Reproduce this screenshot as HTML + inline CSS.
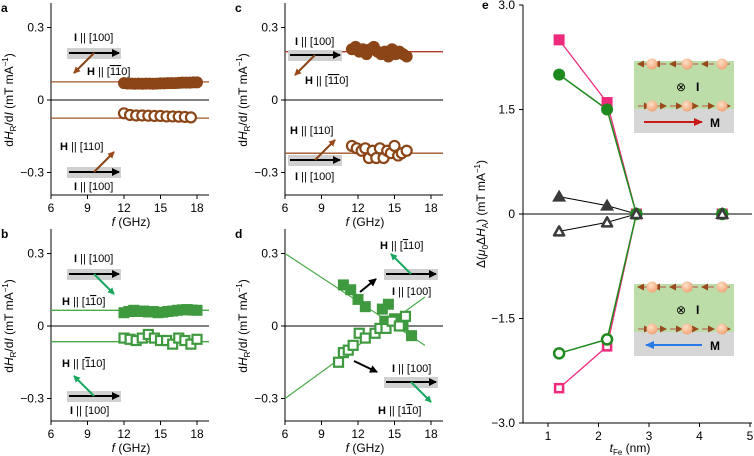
<!DOCTYPE html>
<html><head><meta charset="utf-8"><style>
body{margin:0;background:#fff}
svg{display:block;font-family:"Liberation Sans",sans-serif}
</style></head><body>
<svg id="fig" width="754" height="456" viewBox="0 0 754 456">
<defs>
<marker id="ab" markerWidth="8" markerHeight="8" refX="7" refY="4" orient="auto" markerUnits="userSpaceOnUse"><path d="M0,0 L8,4 L0,8 z" fill="#000"/></marker>
<marker id="abr" markerWidth="7" markerHeight="7" refX="6" refY="3.5" orient="auto" markerUnits="userSpaceOnUse"><path d="M0,0 L7,3.5 L0,7 z" fill="#9a4a1a"/></marker>
<marker id="agr" markerWidth="7" markerHeight="7" refX="6" refY="3.5" orient="auto" markerUnits="userSpaceOnUse"><path d="M0,0 L7,3.5 L0,7 z" fill="#1aa860"/></marker>
<marker id="ared" markerWidth="9" markerHeight="8" refX="8" refY="4" orient="auto" markerUnits="userSpaceOnUse"><path d="M0,0 L9,4 L0,8 z" fill="#c81818"/></marker>
<marker id="ablu" markerWidth="9" markerHeight="8" refX="8" refY="4" orient="auto" markerUnits="userSpaceOnUse"><path d="M0,0 L9,4 L0,8 z" fill="#2a7ae8"/></marker>
<radialGradient id="ball" cx="0.4" cy="0.35" r="0.7"><stop offset="0" stop-color="#fde0c8"/><stop offset="1" stop-color="#f0a070"/></radialGradient>
</defs>
</svg>
<script>
// ---------- data ----------
const fTicks=[6,9,12,15,18];
const yTicksAD=[0.3,0,-0.3];
const yTickLabelsAD=["0.3","0","\u22120.3"];
const aFilledF=[12,12.3,12.6,12.9,13.2,13.5,13.8,14.1,14.4,14.7,15,15.3,15.6,15.9,16.2,16.5,16.8,17.1,17.4,17.7,18];
const aFilledV=[0.07,0.068,0.068,0.067,0.068,0.067,0.068,0.068,0.067,0.068,0.069,0.069,0.07,0.07,0.07,0.071,0.072,0.072,0.072,0.073,0.073];
const aOpenF=[12,12.5,13,13.5,14,14.5,15,15.5,16,16.5,17,17.5];
const aOpenV=[-0.055,-0.062,-0.064,-0.064,-0.065,-0.066,-0.066,-0.068,-0.068,-0.069,-0.07,-0.072];
const aLines=[0.075,-0.075];
const cFilledF=[11.5,11.8,12.1,12.4,12.7,13,13.3,13.6,13.9,14.2,14.5,14.8,15.1,15.4,15.7,16];
const cFilledV=[0.21,0.22,0.2,0.21,0.19,0.21,0.22,0.2,0.19,0.2,0.18,0.21,0.19,0.2,0.19,0.18];
const cOpenF=[11.5,11.9,12.3,12.6,12.9,13.2,13.5,13.8,14.1,14.4,14.7,15,15.3,15.6,16];
const cOpenV=[-0.19,-0.2,-0.21,-0.2,-0.24,-0.21,-0.24,-0.2,-0.24,-0.21,-0.22,-0.19,-0.23,-0.22,-0.21];
const cLines=[0.2,-0.22];
const bFilledF=[12,12.4,12.8,13.2,13.6,14,14.4,14.8,15.2,15.6,16,16.4,16.8,17.2,17.6,18];
const bFilledV=[0.055,0.06,0.065,0.06,0.062,0.058,0.06,0.055,0.057,0.06,0.062,0.065,0.067,0.068,0.066,0.065];
const bOpenF=[12,12.5,13,13.5,14,14.5,15,15.5,16,16.5,17,17.5,18];
const bOpenV=[-0.05,-0.055,-0.06,-0.05,-0.035,-0.05,-0.06,-0.06,-0.075,-0.05,-0.06,-0.075,-0.055];
const bLines=[0.065,-0.065];
const dFilledF=[10.8,11.4,12,12.6,14,14.5,14.2,15,15.7,16.4];
const dFilledV=[0.17,0.15,0.11,0.08,0.07,0.09,0.02,0.03,0.0,-0.04];
const dOpenF=[10.4,10.8,11.2,11.6,12.1,12.6,13.4,13.8,14.3,14.8,15.4,15.9];
const dOpenV=[-0.15,-0.11,-0.1,-0.08,-0.03,-0.05,-0.03,-0.01,-0.01,0.02,0.0,0.04];
const dLineA=[[6,0.3],[17.5,-0.08]];
const dLineB=[[6,-0.3],[17.5,0.12]];
const eTicksX=[1,2,3,4,5];
const eTicksY=[3,1.5,0,-1.5,-3];
const eTickYLabels=["3.0","1.5","0","\u22121.5","\u22123.0"];
const eT=[1.22,2.17,2.75,4.45];
const ePinkUp=[2.5,1.6,0,0];
const ePinkDn=[-2.5,-1.9,0,0];
const eGreenUp=[2.0,1.5,0,0];
const eGreenDn=[-2.0,-1.8,0,0];
const eTriUp=[0.25,0.12,0,0];
const eTriDn=[-0.25,-0.12,0,0];

// ---------- helpers ----------
const svg=document.getElementById('fig');
const NS='http://www.w3.org/2000/svg';
function mk(tag,at,parent){const e=document.createElementNS(NS,tag);for(const k in at)e.setAttribute(k,at[k]);(parent||svg).appendChild(e);return e;}
function txt(x,y,s,at,parent){const e=mk('text',Object.assign({x:x,y:y},at||{}),parent);e.innerHTML=s;return e;}
const BR='#8b4516', GR='#3f9a3f', GE='#1e8a1e', PK='#ee2a7b', DK='#3a3a3a';

function panel(id,ox,oy){
  const g=mk('g',{});
  
  
  const xs=f=>ox+(f-6)*(146/12);
  const ys=v=>oy-v*(72.5/0.3);
  const bot=oy+95;
  mk('line',{x1:ox,y1:oy-97,x2:ox,y2:bot,stroke:'#000','stroke-width':1},g);
  mk('line',{x1:ox,y1:bot,x2:ox+158,y2:bot,stroke:'#000','stroke-width':1},g);
  mk('line',{x1:ox,y1:oy,x2:ox+158,y2:oy,stroke:'#000','stroke-width':1},g);
  fTicks.forEach(t=>{mk('line',{x1:xs(t),y1:bot,x2:xs(t),y2:bot+4,stroke:'#000'},g);
    const l=txt(xs(t),bot+17,String(t),{'font-size':12,'text-anchor':'middle'},g);
    
    });
  yTicksAD.forEach((t,i)=>{mk('line',{x1:ox-4,y1:ys(t),x2:ox,y2:ys(t),stroke:'#000'},g);
    const l=txt(ox-7,ys(t)+4,yTickLabelsAD[i],{'font-size':12,'text-anchor':'end'},g);
    
    });
  const xt=txt(ox+80,bot+31,'<tspan font-style="italic">f</tspan> (GHz)',{'font-size':12,'text-anchor':'middle'},g);
  
  
  const yt=txt(0,0,'d<tspan font-style="italic">H</tspan><tspan font-size="8" dy="3">R</tspan><tspan dy="-3">/d</tspan><tspan font-style="italic">I</tspan> (mT mA<tspan font-size="8" dy="-5">\u22121</tspan><tspan dy="5">)</tspan>',{'font-size':12,'text-anchor':'middle',transform:`translate(${ox-38},${oy}) rotate(-90)`},g);
  
  
  const lb=txt(ox-50,oy-88,id,{'font-size':12,'font-weight':'bold'},g);
  
  
  return {g,xs,ys};
}

function circles(p,F,V,col,filled,name){F.forEach((f,i)=>{const c=mk('circle',{cx:p.xs(f),cy:p.ys(V[i]),r:filled?6:5,fill:filled?col:'#fff',stroke:col,'stroke-width':filled?0:2.2},p.g);
  
  });}
function squares(p,F,V,col,filled,name){F.forEach((f,i)=>{const s=filled?11:9;const r=mk('rect',{x:p.xs(f)-s/2,y:p.ys(V[i])-s/2,width:s,height:s,fill:filled?col:'#fff',stroke:col,'stroke-width':filled?0:2.2},p.g);
  
  });}
function hline(p,v,col){const l=mk('line',{x1:p.xs(6),y1:p.ys(v),x2:p.xs(6)+158,y2:p.ys(v),stroke:col,'stroke-width':1.3},p.g);
  
  }
function icon(g,x,y,ax,ay,col,mark){
  mk('rect',{x:x,y:y-5,width:54,height:11,fill:'#d0d0d0'},g);
  mk('line',{x1:x+2,y1:y,x2:x+52,y2:y,stroke:'#000','stroke-width':2,'marker-end':'url(#ab)'},g);
  mk('line',{x1:x+27,y1:y,x2:x+27+ax,y2:y+ay,stroke:col,'stroke-width':2,'marker-end':`url(#${mark})`},g);
}
const B='<tspan font-weight="bold">';

const pa=panel('a',51,100);
aLines.forEach(v=>hline(pa,v,'#a0552a'));
circles(pa,aFilledF,aFilledV,BR,true,'filled-circle');
circles(pa,aOpenF,aOpenV,BR,false,'open-circle');
icon(pa.g,67,53,-20,20,BR,'abr');
txt(74,41,B+'I</tspan> || [100]',{'font-size':11},pa.g);
txt(87,75,B+'H</tspan> || [<tspan text-decoration="overline">1</tspan><tspan text-decoration="overline">1</tspan>0]',{'font-size':11},pa.g);
icon(pa.g,67,172,20,-20,BR,'abr');
txt(60,150,B+'H</tspan> || [110]',{'font-size':11},pa.g);
txt(74,190,B+'I</tspan> || [100]',{'font-size':11},pa.g);

const pc=panel('c',285,100);
hline(pc,cLines[0],'#b03a2a');hline(pc,cLines[1],'#a0552a');
circles(pc,cFilledF,cFilledV,BR,true,'filled-circle');
circles(pc,cOpenF,cOpenV,BR,false,'open-circle');
icon(pc.g,288,55,-20,20,BR,'abr');
txt(295,45,B+'I</tspan> || [100]',{'font-size':11},pc.g);
txt(305,84,B+'H</tspan> || [<tspan text-decoration="overline">1</tspan><tspan text-decoration="overline">1</tspan>0]',{'font-size':11},pc.g);
icon(pc.g,288,160,20,-20,BR,'abr');
txt(290,134,B+'H</tspan> || [110]',{'font-size':11},pc.g);
txt(295,180,B+'I</tspan> || [100]',{'font-size':11},pc.g);

const pb=panel('b',51,326);
bLines.forEach(v=>hline(pb,v,'#4aaa4a'));
squares(pb,bFilledF,bFilledV,GR,true,'filled-square');
squares(pb,bOpenF,bOpenV,GR,false,'open-square');
icon(pb.g,67,274,20,20,'#1aa860','agr');
txt(74,262,B+'I</tspan> || [100]',{'font-size':11},pb.g);
txt(62,305,B+'H</tspan> || [1<tspan text-decoration="overline">1</tspan>0]',{'font-size':11},pb.g);
icon(pb.g,67,396,-20,-20,'#1aa860','agr');
txt(62,367,B+'H</tspan> || [<tspan text-decoration="overline">1</tspan>10]',{'font-size':11},pb.g);
txt(70,414,B+'I</tspan> || [100]',{'font-size':11},pb.g);

const pd=panel('d',285,326);
[dLineA,dLineB].forEach(L=>{const l=mk('line',{x1:pd.xs(L[0][0]),y1:pd.ys(L[0][1]),x2:pd.xs(L[1][0]),y2:pd.ys(L[1][1]),stroke:'#4aaa4a','stroke-width':1.2},pd.g);
  
  });
squares(pd,dFilledF,dFilledV,GR,true,'filled-square');
squares(pd,dOpenF,dOpenV,GR,false,'open-square');
icon(pd.g,384,274,-20,-20,'#1aa860','agr');
mk('line',{x1:360,y1:292,x2:376,y2:279,stroke:'#000','stroke-width':2,'marker-end':'url(#ab)'},pd.g);
txt(380,249,B+'H</tspan> || [<tspan text-decoration="overline">1</tspan>10]',{'font-size':11},pd.g);
txt(392,295,B+'I</tspan> || [100]',{'font-size':11},pd.g);
icon(pd.g,384,382,20,20,'#1aa860','agr');
mk('line',{x1:354,y1:361,x2:377,y2:372,stroke:'#000','stroke-width':2,'marker-end':'url(#ab)'},pd.g);
txt(392,372,B+'I</tspan> || [100]',{'font-size':11},pd.g);
txt(378,414,B+'H</tspan> || [1<tspan text-decoration="overline">1</tspan>0]',{'font-size':11},pd.g);

// panel e
const ge=mk('g',{});


const ex=t=>548+(t-1)*50.5, ey=v=>214-v*(209/3);
mk('line',{x1:523,y1:5,x2:523,y2:423,stroke:'#000'},ge);
mk('line',{x1:523,y1:423,x2:752,y2:423,stroke:'#000'},ge);
mk('line',{x1:523,y1:214,x2:752,y2:214,stroke:'#000'},ge);
eTicksX.forEach(t=>{mk('line',{x1:ex(t),y1:423,x2:ex(t),y2:427,stroke:'#000'},ge);
  const l=txt(ex(t),440,String(t),{'font-size':12,'text-anchor':'middle'},ge);
  
  });
eTicksY.forEach((t,i)=>{mk('line',{x1:519,y1:ey(t),x2:523,y2:ey(t),stroke:'#000'},ge);
  const l=txt(515,ey(t)+4,eTickYLabels[i],{'font-size':12,'text-anchor':'end'},ge);
  
  });
const ext=txt(630,452,'<tspan font-style="italic">t</tspan><tspan font-size="8" dy="3">Fe</tspan><tspan dy="-3"> (nm)</tspan>',{'font-size':12,'text-anchor':'middle'},ge);


const eyt=txt(0,0,'\u0394(<tspan font-style="italic">\u03bc</tspan><tspan font-size="8" dy="3">0</tspan><tspan dy="-3">\u0394</tspan><tspan font-style="italic">H</tspan><tspan font-size="8" dy="3">A</tspan><tspan dy="-3">) (mT mA</tspan><tspan font-size="8" dy="-5">\u22121</tspan><tspan dy="5">)</tspan>',{'font-size':12,'text-anchor':'middle',transform:'translate(485,214) rotate(-90)'},ge);


const el=txt(482,9,'e',{'font-size':12,'font-weight':'bold'},ge);



function inset(y,dir){
  const gi=mk('g',{},ge);
  
  
  const x=634;
  mk('rect',{x:x,y:y,width:100,height:48,fill:'#bcdca8'},gi);
  mk('rect',{x:x,y:y+48,width:100,height:24,fill:'#d6d6d6'},gi);
  [[y+3,-1],[y+45,1]].forEach(([yy,d])=>{
    for(let k=0;k<6;k++){const xa=x+4+k*16, xb=xa+12;
      mk('line',{x1:d>0?xa:xb,y1:yy,x2:d>0?xb:xa,y2:yy,stroke:'#c0504a','stroke-width':1,'marker-end':'url(#abr)'},gi);}
    [0,1,2].forEach(k=>mk('circle',{cx:x+18+k*35,cy:yy,r:5.5,fill:'url(#ball)'},gi));
  });
  txt(x+42,y+30,'\u2297',{'font-size':12},gi);
  txt(x+62,y+30,'I',{'font-size':12,'font-weight':'bold'},gi);
  if(dir>0) mk('line',{x1:x+10,y1:y+61,x2:x+68,y2:y+61,stroke:'#c81818','stroke-width':2,'marker-end':'url(#ared)'},gi);
  else mk('line',{x1:x+68,y1:y+61,x2:x+12,y2:y+61,stroke:'#2a7ae8','stroke-width':2,'marker-end':'url(#ablu)'},gi);
  txt(x+76,y+66,'M',{'font-size':12,'font-weight':'bold'},gi);
}
inset(61,1);inset(284,-1);

function eline(V,col,w){const pts=eT.slice(0,3).map((t,i)=>ex(t)+','+ey(V[i])).join(' ');
  const l=mk('polyline',{points:pts,fill:'none',stroke:col,'stroke-width':w},ge);
  
  }
mk('line',{x1:ex(eT[2]),y1:ey(0),x2:ex(eT[3]),y2:ey(0),stroke:DK,'stroke-width':1.5},ge);
eline(eTriUp,'#000',1);eline(eTriDn,'#000',1);
eline(ePinkUp,PK,1.3);eline(ePinkDn,PK,1.3);
eline(eGreenUp,GE,1.5);eline(eGreenDn,GE,1.5);
function esq(V,filled){eT.forEach((t,i)=>{const s=filled?11:8;const r=mk('rect',{x:ex(t)-s/2,y:ey(V[i])-s/2,width:s,height:s,fill:filled?PK:'#fff',stroke:PK,'stroke-width':filled?0:2.5},ge);
  
  });}
function ecirc(V,filled){eT.forEach((t,i)=>{const c=mk('circle',{cx:ex(t),cy:ey(V[i]),r:filled?6:5,fill:filled?GE:'#fff',stroke:GE,'stroke-width':filled?0:2.5},ge);
  
  });}
function etri(V,filled){eT.forEach((t,i)=>{const x=ex(t),y=ey(V[i]);const p=filled?`${x},${y-7} ${x-7},${y+5} ${x+7},${y+5}`:`${x},${y-5} ${x-5},${y+4} ${x+5},${y+4}`;
  const tr=mk('polygon',{points:p,fill:filled?DK:'#fff',stroke:DK,'stroke-width':filled?0:2.5,'stroke-linejoin':'round'},ge);
  
  });}
esq(ePinkUp,true);esq(ePinkDn,false);
ecirc(eGreenUp,true);ecirc(eGreenDn,false);
etri(eTriUp,true);etri(eTriDn,false);
</script>
</body></html>
